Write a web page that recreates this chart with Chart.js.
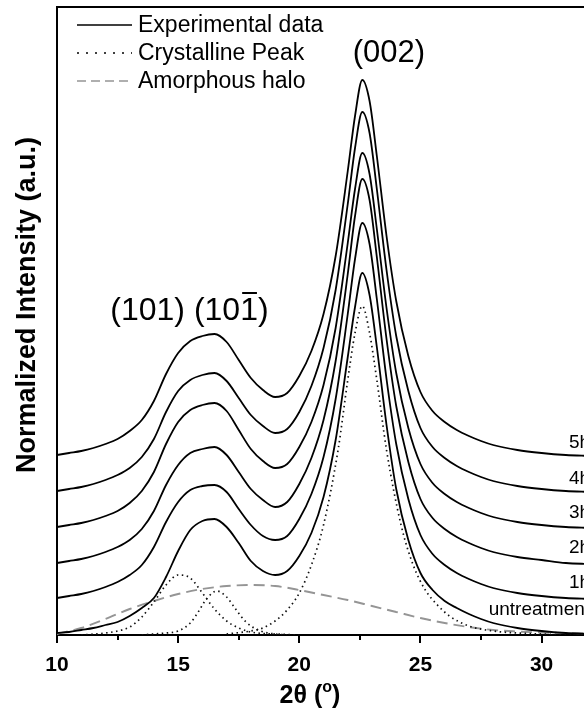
<!DOCTYPE html>
<html>
<head>
<meta charset="utf-8">
<script src="https://cdn.jsdelivr.net/npm/chart.js@4.4.0/dist/chart.umd.min.js"></script>
<style>
  html, body { margin: 0; padding: 0; background: #fff; overflow: hidden; }
  #wrap { width: 584px; height: 710px; }
</style>
</head>
<body>
<div id="wrap"><canvas id="xrd" width="584" height="710"></canvas></div>
<script>
// 2theta grid shared by the measured patterns
var angle = [10, 10.5, 11, 11.5, 12, 12.5, 13, 13.5, 14, 14.5,
             15, 15.5, 16, 16.5, 17, 17.5, 18, 18.5, 19, 19.5,
             20, 20.5, 21, 21.5, 22, 22.3, 22.6, 22.9, 23.2, 23.6,
             24, 24.5, 25, 25.5, 26, 26.5, 27, 27.5, 28, 29,
             30, 31, 32];

var exp5h = [1.80, 1.82, 1.84, 1.87, 1.91, 1.96, 2.04, 2.15, 2.34, 2.61,
             2.82, 2.94, 2.99, 3.01, 2.93, 2.75, 2.57, 2.45, 2.38, 2.42,
             2.59, 2.84, 3.21, 3.79, 4.64, 5.19, 5.55, 5.34, 4.79, 3.99,
             3.34, 2.79, 2.43, 2.24, 2.13, 2.05, 1.99, 1.94, 1.90, 1.85,
             1.82, 1.80, 1.79];
var exp4h = [1.44, 1.46, 1.48, 1.51, 1.55, 1.60, 1.67, 1.78, 1.96, 2.23,
             2.44, 2.55, 2.60, 2.62, 2.54, 2.37, 2.20, 2.09, 2.02, 2.06,
             2.23, 2.49, 2.87, 3.45, 4.31, 4.87, 5.23, 5.02, 4.46, 3.65,
             2.99, 2.44, 2.07, 1.88, 1.77, 1.69, 1.63, 1.58, 1.54, 1.49,
             1.46, 1.44, 1.43];
var exp3h = [1.08, 1.10, 1.12, 1.15, 1.19, 1.24, 1.32, 1.44, 1.63, 1.91,
             2.13, 2.25, 2.30, 2.32, 2.24, 2.05, 1.86, 1.74, 1.67, 1.71,
             1.88, 2.13, 2.50, 3.07, 3.92, 4.46, 4.82, 4.61, 4.06, 3.27,
             2.62, 2.07, 1.71, 1.52, 1.41, 1.33, 1.27, 1.22, 1.18, 1.13,
             1.10, 1.08, 1.07];
var exp2h = [0.72, 0.74, 0.76, 0.79, 0.83, 0.88, 0.95, 1.06, 1.24, 1.50,
             1.70, 1.82, 1.86, 1.88, 1.80, 1.63, 1.46, 1.35, 1.28, 1.33,
             1.51, 1.77, 2.15, 2.74, 3.61, 4.19, 4.56, 4.35, 3.78, 2.96,
             2.29, 1.73, 1.36, 1.17, 1.06, 0.98, 0.92, 0.87, 0.83, 0.78,
             0.75, 0.72, 0.71];
var exp1h = [0.37, 0.39, 0.41, 0.44, 0.48, 0.53, 0.60, 0.70, 0.88, 1.13,
             1.33, 1.45, 1.49, 1.50, 1.43, 1.26, 1.10, 0.99, 0.95, 0.99,
             1.16, 1.41, 1.78, 2.36, 3.21, 3.76, 4.12, 3.91, 3.36, 2.56,
             1.91, 1.36, 1.00, 0.81, 0.70, 0.62, 0.56, 0.51, 0.47, 0.42,
             0.39, 0.37, 0.36];
var expUntreated = [0.02, 0.03, 0.05, 0.07, 0.10, 0.13, 0.19, 0.27, 0.37, 0.58,
             0.84, 1.05, 1.14, 1.16, 1.08, 0.92, 0.74, 0.64, 0.60, 0.64,
             0.79, 1.02, 1.38, 1.95, 2.78, 3.28, 3.62, 3.40, 2.88, 2.10,
             1.46, 0.95, 0.62, 0.45, 0.34, 0.27, 0.21, 0.16, 0.12, 0.07,
             0.04, 0.02, 0.01];

// fitted crystalline peaks of the untreated sample
var peak101X = [11, 12, 12.5, 13, 13.5, 14, 14.5, 15, 15.5, 16, 16.5, 17, 17.5, 18, 18.5, 19, 20];
var peak101Y = [0.0, 0.02, 0.04, 0.08, 0.18, 0.33, 0.50, 0.60, 0.57, 0.42, 0.26, 0.14, 0.07, 0.03, 0.015, 0.01, 0.0];
var peak10mX = [13.5, 14, 14.5, 15, 15.5, 15.8, 16.2, 16.6, 17, 17.4, 17.8, 18.4, 19, 19.5];
var peak10mY = [0.0, 0.01, 0.02, 0.04, 0.12, 0.22, 0.37, 0.44, 0.38, 0.25, 0.13, 0.04, 0.01, 0.0];
var peak002X = [17, 18, 18.5, 19, 19.5, 20, 20.5, 21, 21.6, 22, 22.3, 22.6, 22.9, 23.2, 23.6,
                24.2, 24.7, 25.2, 25.7, 26.2, 27, 28, 29, 30, 31, 32];
var peak002Y = [0.01, 0.04, 0.07, 0.14, 0.25, 0.42, 0.70, 1.10, 1.85, 2.55, 3.02, 3.29, 3.02, 2.55, 1.85,
                1.10, 0.70, 0.45, 0.30, 0.19, 0.09, 0.04, 0.02, 0.01, 0.0, 0.0];

// amorphous halo
var haloX = [10, 11, 12, 13, 14, 15, 16, 17, 18, 19, 20, 21, 22, 23, 24, 25, 26, 27, 28, 29, 30, 31, 32];
var haloY = [0.01, 0.07, 0.16, 0.26, 0.34, 0.41, 0.46, 0.49, 0.50, 0.49, 0.45, 0.40, 0.35, 0.29,
             0.23, 0.17, 0.12, 0.08, 0.05, 0.035, 0.025, 0.02, 0.015];

var tickMajor = [10, 15, 20, 25, 30];
var tickMinor = [12.5, 17.5, 22.5, 27.5];
var curveNames = ['5h', '4h', '3h', '2h', '1h', 'untreatment'];
var curveNameY = [1.92, 1.56, 1.22, 0.87, 0.52, 0.25];
var legendNames = ['Experimental data', 'Crystalline Peak', 'Amorphous halo'];

var FONT = '"Liberation Sans", Arial, sans-serif';

function toPoints(xs, ys) {
  return xs.map(function(x, i) { return {x: x, y: ys[i]}; });
}

function solid(data) {
  return { data: toPoints(angle, data), borderColor: '#000', borderWidth: 1.8,
           pointRadius: 0, fill: false, cubicInterpolationMode: 'monotone' };
}
function dotted(xs, ys) {
  return { data: toPoints(xs, ys), borderColor: '#111', borderWidth: 1.7, borderDash: [1.5, 3.5],
           pointRadius: 0, fill: false, cubicInterpolationMode: 'monotone' };
}

var datasets = [
  solid(exp5h), solid(exp4h), solid(exp3h), solid(exp2h), solid(exp1h), solid(expUntreated),
  dotted(peak101X, peak101Y), dotted(peak10mX, peak10mY), dotted(peak002X, peak002Y),
  { data: toPoints(haloX, haloY), borderColor: '#959595', borderWidth: 1.9, borderDash: [11, 6],
    pointRadius: 0, fill: false, cubicInterpolationMode: 'monotone' }
];

var xrdDecor = {
  id: 'xrdDecor',
  afterDraw: function(chart) {
    var ctx = chart.ctx, area = chart.chartArea;
    var xs = chart.scales.x, ys = chart.scales.y;
    ctx.save();
    ctx.strokeStyle = '#000';
    ctx.fillStyle = '#000';
    ctx.lineWidth = 2;
    ctx.setLineDash([]);

    // top frame line
    ctx.beginPath();
    ctx.moveTo(area.left, area.top);
    ctx.lineTo(area.right, area.top);
    ctx.stroke();

    // tick marks, outside
    tickMajor.forEach(function(v) {
      var px = Math.round(xs.getPixelForValue(v));
      ctx.beginPath(); ctx.moveTo(px, area.bottom); ctx.lineTo(px, area.bottom + 8); ctx.stroke();
    });
    tickMinor.forEach(function(v) {
      var px = Math.round(xs.getPixelForValue(v));
      ctx.beginPath(); ctx.moveTo(px, area.bottom); ctx.lineTo(px, area.bottom + 5); ctx.stroke();
    });

    // axis titles
    ctx.textBaseline = 'alphabetic';
    ctx.textAlign = 'left';
    ctx.font = 'bold 25px ' + FONT;
    var part1 = '2\u03b8 (';
    var w1 = ctx.measureText(part1).width;
    ctx.font = 'bold 16px ' + FONT;
    var w2 = ctx.measureText('o').width;
    ctx.font = 'bold 25px ' + FONT;
    var w3 = ctx.measureText(')').width;
    var tx = 310 - (w1 + w2 + w3) / 2;
    ctx.fillText(part1, tx, 703);
    ctx.font = 'bold 16px ' + FONT;
    ctx.fillText('o', tx + w1, 692);
    ctx.font = 'bold 25px ' + FONT;
    ctx.fillText(')', tx + w1 + w2, 703);

    ctx.save();
    ctx.translate(35, 305);
    ctx.rotate(-Math.PI / 2);
    ctx.textAlign = 'center';
    ctx.font = 'bold 27px ' + FONT;
    ctx.fillText('Normalized Intensity (a.u.)', 0, 0);
    ctx.restore();

    // legend in the upper left corner
    ctx.font = '23px ' + FONT;
    ctx.textBaseline = 'middle';
    var styles = [
      {color: '#000', dash: [], width: 1.6},
      {color: '#000', dash: [2, 7], width: 1.6},
      {color: '#959595', dash: [9, 5], width: 1.6}
    ];
    legendNames.forEach(function(name, i) {
      var ly = area.top + 18 + i * 28;
      ctx.strokeStyle = styles[i].color;
      ctx.lineWidth = styles[i].width;
      ctx.setLineDash(styles[i].dash);
      ctx.beginPath(); ctx.moveTo(area.left + 20, ly); ctx.lineTo(area.left + 75, ly); ctx.stroke();
      ctx.fillText(name, area.left + 81, ly + 1);
    });
    ctx.setLineDash([]);

    // sample names at the right end of each trace
    ctx.font = '19px ' + FONT;
    ctx.textAlign = 'right';
    curveNames.forEach(function(name, i) {
      ctx.fillText(name, xs.getPixelForValue(32.0), ys.getPixelForValue(curveNameY[i]));
    });

    // reflection labels
    ctx.font = '31px ' + FONT;
    ctx.textBaseline = 'alphabetic';
    ctx.textAlign = 'center';
    ctx.fillText('(002)', xs.getPixelForValue(23.7), ys.getPixelForValue(5.73));
    ctx.font = '32px ' + FONT;
    ctx.textAlign = 'left';
    var lx = xs.getPixelForValue(12.2), ly2 = ys.getPixelForValue(3.15);
    ctx.fillText('(101) (101)', lx, ly2);
    var pre = ctx.measureText('(101) (10').width;
    var one = ctx.measureText('1').width;
    ctx.strokeStyle = '#000';
    ctx.lineWidth = 2;
    ctx.beginPath();
    ctx.moveTo(lx + pre + 2, ly2 - 27);
    ctx.lineTo(lx + pre + one - 1, ly2 - 27);
    ctx.stroke();

    ctx.restore();
  }
};

new Chart(document.getElementById('xrd').getContext('2d'), {
  type: 'line',
  data: { datasets: datasets },
  options: {
    responsive: false,
    devicePixelRatio: 1,
    animation: false,
    layout: { padding: { top: 7, right: 0, left: 0, bottom: 0 } },
    plugins: { legend: { display: false }, tooltip: { enabled: false } },
    scales: {
      x: {
        type: 'linear',
        min: 10,
        max: 31.75,
        afterBuildTicks: function(scale) {
          scale.ticks = tickMajor.map(function(v) { return {value: v}; });
        },
        afterFit: function(scale) { scale.height = 75; },
        grid: { display: false, drawTicks: false },
        border: { display: true, color: '#000', width: 2 },
        ticks: { color: '#000', padding: 18, font: { family: FONT, size: 21, weight: 'bold' } }
      },
      y: {
        type: 'linear',
        min: 0,
        max: 6.28,
        afterFit: function(scale) { scale.width = 57; },
        grid: { display: false, drawTicks: false },
        border: { display: true, color: '#000', width: 2 },
        ticks: { display: false }
      }
    }
  },
  plugins: [xrdDecor]
});
</script>
</body>
</html>
